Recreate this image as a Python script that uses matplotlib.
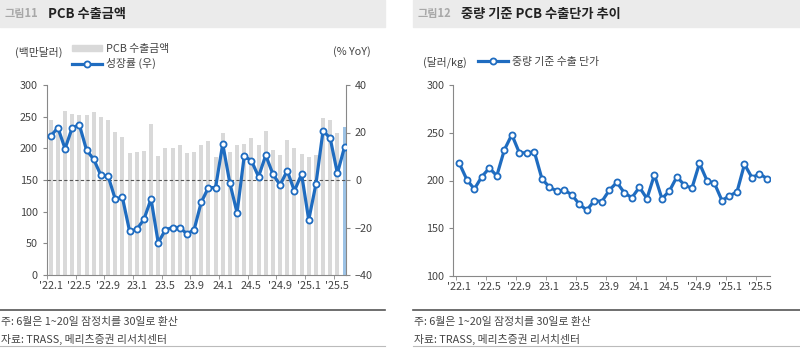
import numpy as np
import matplotlib
matplotlib.use("Agg")
import matplotlib.pyplot as plt
from matplotlib.lines import Line2D
from matplotlib.patches import Patch, Rectangle

plt.rcParams['font.family'] = ['Noto Sans CJK KR', 'DejaVu Sans']

# 2022.1 ~ 2025.6 (42개월)
export_amt = [245, 237, 259, 254, 253, 253, 257, 249, 245, 226, 218, 193,
              194, 196, 238, 188, 200, 201, 206, 193, 194, 205, 211, 186,
              224, 194, 205, 207, 216, 205, 227, 198, 189, 213, 201, 191,
              186, 189, 248, 244, 224, 233]
growth_yoy = [18.5, 22, 13.2, 22, 23.2, 12.6, 8.7, 2, 1.7, -8, -7.3, -21.5,
              -20.8, -16.6, -8, -26.4, -21, -20, -20, -22.7, -21, -9.4, -3.2, -3.2,
              15.2, -1.4, -13.8, 10.1, 8.1, 1.4, 10.4, 2.5, -2.1, 3.9, -4.6, 2.5,
              -16.8, -1.8, 20.8, 17.5, 2.8, 14]
unit_price = [218, 201, 191, 204, 213, 205, 232, 248, 229, 229, 230, 202,
              193, 189, 190, 185, 175, 169, 179, 178, 190, 198, 187, 182,
              193, 181, 206, 181, 189, 204, 195, 192, 218, 200, 197, 179,
              184, 188, 217, 203, 207, 202]
tick_labels = ["'22.1", "'22.5", "'22.9", "23.1", "23.5", "23.9", "24.1",
               "24.5", "'24.9", "'25.1", "'25.5"]

BLUE = '#1f6cc0'
GRAY_BAR = '#d9d9d9'
LAST_BAR = '#9dc3e6'
TXT = '#444444'
SPINE = '#888888'
FS = 7.8

x = np.arange(len(export_amt))
tick_pos = np.arange(0, len(x), 4)

fig = plt.figure(figsize=(8, 3.48), dpi=100)

# 제목 배경, 주석
for (x0, x1, num, title) in [(0, 385, '그림11', 'PCB 수출금액'),
                              (413, 800, '그림12', '중량 기준 PCB 수출단가 추이')]:
    fig.patches.append(Rectangle((x0 / 800, 1 - 27 / 348), (x1 - x0) / 800, 27 / 348,
                                 transform=fig.transFigure, color='#ebebeb', zorder=0))
    fig.text((x0 + 5) / 800, 1 - 14 / 348, num, fontsize=8, color='#a8a8a8',
             va='center', fontweight='bold')
    fig.text((x0 + 48) / 800, 1 - 14 / 348, title, fontsize=9.5, color='#222222',
             va='center', fontweight='bold')
    fig.add_artist(Line2D([x0 / 800, x1 / 800], [1 - 310 / 348] * 2,
                          transform=fig.transFigure, color='#555555', lw=1.2))
    fig.add_artist(Line2D([x0 / 800, x1 / 800], [1 - 346 / 348] * 2,
                          transform=fig.transFigure, color='#bbbbbb', lw=0.8))
    fig.text((x0 + 1) / 800, 1 - 322 / 348, '주: 6월은 1~20일 잠정치를 30일로 환산',
             fontsize=FS, color=TXT, va='center')
    fig.text((x0 + 1) / 800, 1 - 339 / 348, '자료: TRASS, 메리츠증권 리서치센터',
             fontsize=FS, color=TXT, va='center')


def style_axis(ax):
    for s in ['top', 'right']:
        ax.spines[s].set_visible(False)
    for s in ['left', 'bottom']:
        ax.spines[s].set_color(SPINE)
        ax.spines[s].set_linewidth(0.8)
    ax.set_xticks(tick_pos)
    ax.set_xticklabels(tick_labels)
    ax.tick_params(axis='x', length=0, labelsize=FS, colors=TXT, pad=4)
    ax.set_xticks(np.arange(-0.5, len(x), 4), minor=True)
    ax.tick_params(axis='x', which='minor', length=3, color=SPINE)
    ax.tick_params(axis='y', length=3, color=SPINE, labelsize=FS, labelcolor=TXT)


# ----- 그림11 -----
ax1 = fig.add_axes([46.7 / 800, 1 - 275 / 348, (346 - 46.7) / 800, 190 / 348])
colors = [GRAY_BAR] * (len(x) - 1) + [LAST_BAR]
ax1.bar(x, export_amt, width=0.55, color=colors, zorder=1)
ax1.set_ylim(0, 300)
ax1.set_yticks(range(0, 301, 50))
ax1.set_xlim(-0.56, 41.2)
style_axis(ax1)

ax2 = ax1.twinx()
ax2.axhline(0, color='#555555', lw=0.8, ls=(0, (3, 2)), zorder=2)
ax2.plot(x, growth_yoy, color=BLUE, lw=2.3, marker='o', ms=4.4,
         mfc='white', mec=BLUE, mew=1.3, zorder=3)
ax2.set_ylim(-40, 40)
ax2.set_yticks(range(-40, 41, 20))
for s in ['top', 'left', 'bottom']:
    ax2.spines[s].set_visible(False)
ax2.spines['right'].set_color(SPINE)
ax2.spines['right'].set_linewidth(0.8)
ax2.tick_params(axis='y', length=3, color=SPINE, labelsize=FS, labelcolor=TXT)

fig.text(15 / 800, 1 - 52 / 348, '(백만달러)', fontsize=FS, color=TXT, va='center')
fig.text(333 / 800, 1 - 52 / 348, '(% YoY)', fontsize=FS, color=TXT, va='center')
fig.legend(handles=[Patch(color=GRAY_BAR, label='PCB 수출금액'),
                    Line2D([], [], color=BLUE, lw=2.3, marker='o', ms=4.4,
                           mfc='white', mec=BLUE, mew=1.3, label='성장률 (우)')],
           loc='upper left', bbox_to_anchor=(72 / 800, 1 - 44 / 348),
           frameon=False, fontsize=FS, labelcolor=TXT, handlelength=2.8,
           handleheight=0.4, handletextpad=0.3, labelspacing=0.4,
           borderpad=0, borderaxespad=0)

# ----- 그림12 -----
ax3 = fig.add_axes([453.3 / 800, 1 - 276 / 348, (770 - 453.3) / 800, 191 / 348])
ax3.plot(x, unit_price, color=BLUE, lw=2.3, marker='o', ms=4.4,
         mfc='white', mec=BLUE, mew=1.3)
ax3.set_ylim(100, 300)
ax3.set_yticks(range(100, 301, 50))
ax3.set_xlim(-0.8, 41.4)
style_axis(ax3)

fig.text(423 / 800, 1 - 62 / 348, '(달러/kg)', fontsize=FS, color=TXT, va='center')
fig.legend(handles=[Line2D([], [], color=BLUE, lw=2.3, marker='o', ms=4.4,
                           mfc='white', mec=BLUE, mew=1.3, label='중량 기준 수출 단가')],
           loc='center left', bbox_to_anchor=(478 / 800, 1 - 62 / 348),
           frameon=False, fontsize=FS, labelcolor=TXT, handlelength=2.8,
           handletextpad=0.3, borderpad=0, borderaxespad=0)

fig.savefig('out.png', dpi=100)
